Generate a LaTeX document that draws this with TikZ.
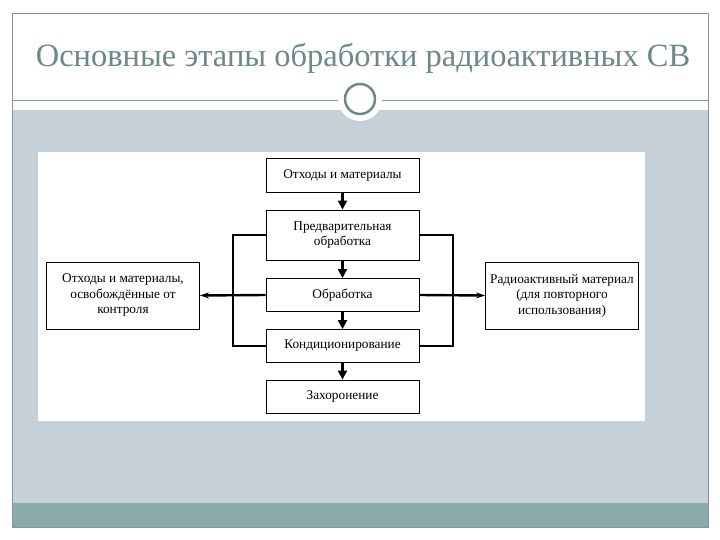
\documentclass[tikz,border=0pt]{standalone}
\usepackage{fontspec}
\setmainfont{Liberation Serif}
\usepackage{xcolor}
\usetikzlibrary{arrows.meta, positioning, calc}
\definecolor{clrTitle}{HTML}{6B8986}
\definecolor{clrFrame}{HTML}{8A9695}
\definecolor{clrPanel}{HTML}{C5D0D8}
\definecolor{clrStrip}{HTML}{8AABAB}
\definecolor{clrRing}{HTML}{6E8A88}
\tikzset{
  stage box/.style={rectangle, draw=black, fill=white, line width=0.9pt, minimum width=153pt, font=\fontsize{13.3}{15.5}\selectfont, align=center, inner sep=2pt},
  side box/.style={stage box, minimum height=67pt},
  arr/.style={-{Triangle[length=9pt, width=9pt]}, line width=2.6pt},
  sarr/.style={-{Stealth[length=9pt, width=6pt]}, line width=2.4pt},
  bus/.style={line width=2.6pt},
}

\begin{document}
\begin{tikzpicture}[x=1pt, y=-1pt]
  \useasboundingbox (0,0) rectangle (720,540);
  % Slide background
  \fill[white] (0,0) rectangle (720,540);
  \fill[clrPanel] (12,110) rectangle (708,503);
  \fill[clrStrip] (12,503) rectangle (708,527);
  \draw[clrFrame, line width=0.8pt] (12,13) rectangle (708,527);
  \draw[clrFrame, line width=0.8pt] (12,100) -- (708,100);
  \fill[white] (360,99) circle (22);
  \draw[clrRing, line width=2.5pt] (360,99) circle (15);
  \node[text=clrTitle, font=\fontsize{32.5}{36}\selectfont] (title) at (363,58) {Основные этапы обработки радиоактивных СВ};

  % Diagram area
  \fill[white] (38,152) rectangle (645,421);

  % Stages
  \node[stage box, minimum height=34pt] (waste) at (342.5,175.5) {Отходы и материалы};
  \node[stage box, minimum height=50pt] (pre) at (342.5,235) {Предварительная\\обработка};
  \node[stage box, minimum height=33pt] (proc) at (342.5,295) {Обработка};
  \node[stage box, minimum height=33pt] (cond) at (342.5,346) {Кондиционирование};
  \node[stage box, minimum height=33pt] (disp) at (342.5,396.5) {Захоронение};
  \node[side box] (free) at (123,295.5) {Отходы и материалы,\\освобождённые от\\контроля};
  \node[side box] (reuse) at (562,295.5) {Радиоактивный материал\\(для повторного\\использования)};

  % Main chain
  \draw[arr] (waste) -- (pre);
  \draw[arr] (pre) -- (proc);
  \draw[arr] (proc) -- (cond);
  \draw[arr] (cond) -- (disp);

  % Side outputs
  \coordinate (lbus) at (233,295);
  \coordinate (rbus) at (453,295);
  \draw[bus] (pre.west) -| (lbus) |- (cond.west);
  \draw[bus] (pre.east) -| (rbus) |- (cond.east);
  \draw[sarr] (proc.west) -- (free.east);
  \draw[sarr] (proc.east) -- (reuse.west);
\end{tikzpicture}
\end{document}
